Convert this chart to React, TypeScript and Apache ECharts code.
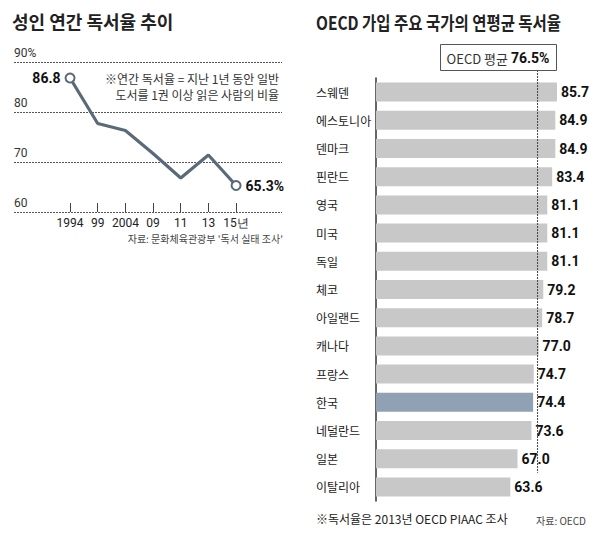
import React, { useEffect, useRef } from "react";
import * as echarts from "echarts";

const YEARS = ["1994", "99", "2004", "09", "11", "13", "15년"];
const RATES = [86.8, 77.7, 76.3, 71.7, 66.8, 71.4, 65.3];
const RATE_MIN = 60;
const RATE_MAX = 90;
const RATE_STEP = 10;

const COUNTRIES = [
  "스웨덴", "에스토니아", "덴마크", "핀란드", "영국", "미국", "독일", "체코",
  "아일랜드", "캐나다", "프랑스", "한국", "네덜란드", "일본", "이탈리아",
];
const VALUES = [85.7, 84.9, 84.9, 83.4, 81.1, 81.1, 81.1, 79.2, 78.7, 77.0, 74.7, 74.4, 73.6, 67.0, 63.6];
const OECD_AVG = 76.5;
const HIGHLIGHT = "한국";

const KR = '"Noto Sans CJK KR", "Noto Sans", sans-serif';
const NUM = '"Liberation Sans Narrow", "Roboto", "Liberation Sans", sans-serif';
const LINE = "#5b6a79";

export default function App() {
  const ref = useRef<HTMLDivElement>(null);
  useEffect(() => {
    if (!ref.current) return;
    const chart = echarts.init(ref.current, undefined, { renderer: "svg" });
    const last = RATES.length - 1;
    chart.setOption({
      animation: false,
      backgroundColor: "#fff",
      grid: [
        { left: 14, top: 62, width: 268, height: 150 },
        { left: 56.2, top: 62, width: 193.7, height: 150 },
        { left: 376, top: 78, width: 211.2, height: 423 },
      ],
      xAxis: [
        { gridIndex: 0, type: "value", show: false, min: 0, max: 1 },
        {
          gridIndex: 1,
          type: "category",
          data: YEARS,
          boundaryGap: true,
          axisLine: { show: false },
          axisTick: { show: true, inside: true, alignWithLabel: true, length: 9, lineStyle: { color: "#444" } },
          axisLabel: { interval: 0, hideOverlap: false, margin: 5, fontSize: 12, color: "#222", fontFamily: NUM },
        },
        { gridIndex: 2, type: "value", min: 0, max: 100, show: false },
      ],
      yAxis: [
        {
          gridIndex: 0,
          type: "value",
          min: RATE_MIN,
          max: RATE_MAX,
          interval: RATE_STEP,
          axisLine: { show: false },
          axisTick: { show: false },
          splitLine: { show: true, lineStyle: { type: [2, 1], color: "#555", width: 1 } },
          axisLabel: {
            inside: true,
            verticalAlign: "bottom",
            margin: 0,
            padding: [0, 0, 3, 0],
            fontSize: 12,
            color: "#333",
            fontFamily: NUM,
            formatter: (v: number) => (v === RATE_MAX ? v + "%" : String(v)),
          },
        },
        { gridIndex: 1, type: "value", min: RATE_MIN, max: RATE_MAX, show: false },
        {
          gridIndex: 2,
          type: "category",
          data: COUNTRIES,
          inverse: true,
          axisLine: { show: true, lineStyle: { color: "#333", width: 1.5 } },
          axisTick: { show: false },
          axisLabel: { align: "left", margin: 60, fontSize: 12, color: "#1a1a1a", fontFamily: KR },
        },
      ],
      series: [
        {
          type: "line",
          xAxisIndex: 1,
          yAxisIndex: 1,
          symbol: "emptyCircle",
          symbolSize: 9,
          itemStyle: { color: LINE, borderWidth: 2 },
          lineStyle: { color: LINE, width: 3.2 },
          z: 5,
          data: RATES.map((v, i) => ({
            value: v,
            symbol: i === 0 || i === last ? "emptyCircle" : "none",
            label: {
              show: i === 0 || i === last,
              position: i === 0 ? "left" : "right",
              distance: 4,
              fontSize: 14,
              fontWeight: "bold",
              fontFamily: NUM,
              color: "#111",
              formatter: i === last ? v + "%" : String(v),
            },
          })),
        },
        {
          type: "bar",
          xAxisIndex: 2,
          yAxisIndex: 2,
          barWidth: 19,
          data: VALUES.map((v, i) => ({
            value: v,
            itemStyle: { color: COUNTRIES[i] === HIGHLIGHT ? "#8fa1b3" : "#c8c8c8" },
          })),
          label: {
            show: true,
            position: "right",
            distance: 4,
            fontSize: 14,
            fontWeight: "bold",
            fontFamily: NUM,
            color: "#111",
            formatter: (p: any) => Number(p.value).toFixed(1),
          },
        },
      ],
    });

    const avgX = chart.convertToPixel({ xAxisIndex: 2 }, OECD_AVG) as number;
    const lastY = chart.convertToPixel({ yAxisIndex: 2 }, COUNTRIES[COUNTRIES.length - 1]) as number;
    const firstY = chart.convertToPixel({ yAxisIndex: 2 }, COUNTRIES[0]) as number;
    const band = (lastY - firstY) / (COUNTRIES.length - 1);

    chart.setOption({
      graphic: [
        {
          type: "text", left: 12, top: 12, z: 100,
          style: { text: "성인 연간 독서율 추이", fontSize: 18, fontWeight: "bold", fontFamily: KR, fill: "#222" },
        },
        {
          type: "text", x: 316, y: 22, scaleX: 0.86, z: 100,
          style: { text: "OECD 가입 주요 국가의 연평균 독서율", fontSize: 18, fontWeight: "bold", fontFamily: KR, fill: "#222", verticalAlign: "middle" },
        },
        {
          type: "text", x: 279, y: 78, z: 100,
          style: { text: "※연간 독서율 = 지난 1년 동안 일반", fontSize: 12, fontFamily: KR, fill: "#333", align: "right", verticalAlign: "middle" },
        },
        {
          type: "text", x: 279, y: 94, z: 100,
          style: { text: "도서를 1권 이상 읽은 사람의 비율", fontSize: 12, fontFamily: KR, fill: "#333", align: "right", verticalAlign: "middle" },
        },
        {
          type: "text", x: 283, y: 238, z: 100,
          style: { text: "자료: 문화체육관광부 '독서 실태 조사'", fontSize: 10, fontFamily: KR, fill: "#444", align: "right", verticalAlign: "middle" },
        },
        {
          type: "line", z: 100,
          shape: { x1: avgX, y1: 70, x2: avgX, y2: lastY - band / 2 },
          style: { stroke: "#444", lineWidth: 1, lineDash: [2, 1] },
        },
        {
          type: "rect", z: 101,
          shape: { x: 440.5, y: 44.5, width: 116, height: 26 },
          style: { fill: "#fff", stroke: "#555", lineWidth: 1 },
        },
        {
          type: "text", x: 498, y: 58, z: 102,
          style: {
            text: "{a|OECD 평균 }{b|" + OECD_AVG + "%}",
            align: "center",
            verticalAlign: "middle",
            rich: {
              a: { fontSize: 13, fontFamily: KR, fill: "#333", color: "#333" },
              b: { fontSize: 14, fontWeight: "bold", fontFamily: NUM, fill: "#111", color: "#111" },
            },
          },
        },
        {
          type: "text", x: 316, y: 518, z: 100,
          style: { text: "※독서율은 2013년 OECD PIAAC 조사", fontSize: 12, fontFamily: KR, fill: "#222", verticalAlign: "middle" },
        },
        {
          type: "text", x: 586, y: 520, z: 100,
          style: { text: "자료: OECD", fontSize: 10, fontFamily: KR, fill: "#444", align: "right", verticalAlign: "middle" },
        },
      ],
    });

    return () => chart.dispose();
  }, []);
  return <div ref={ref} style={{ position: "fixed", left: 0, top: 0, width: 600, height: 533 }} />;
}
